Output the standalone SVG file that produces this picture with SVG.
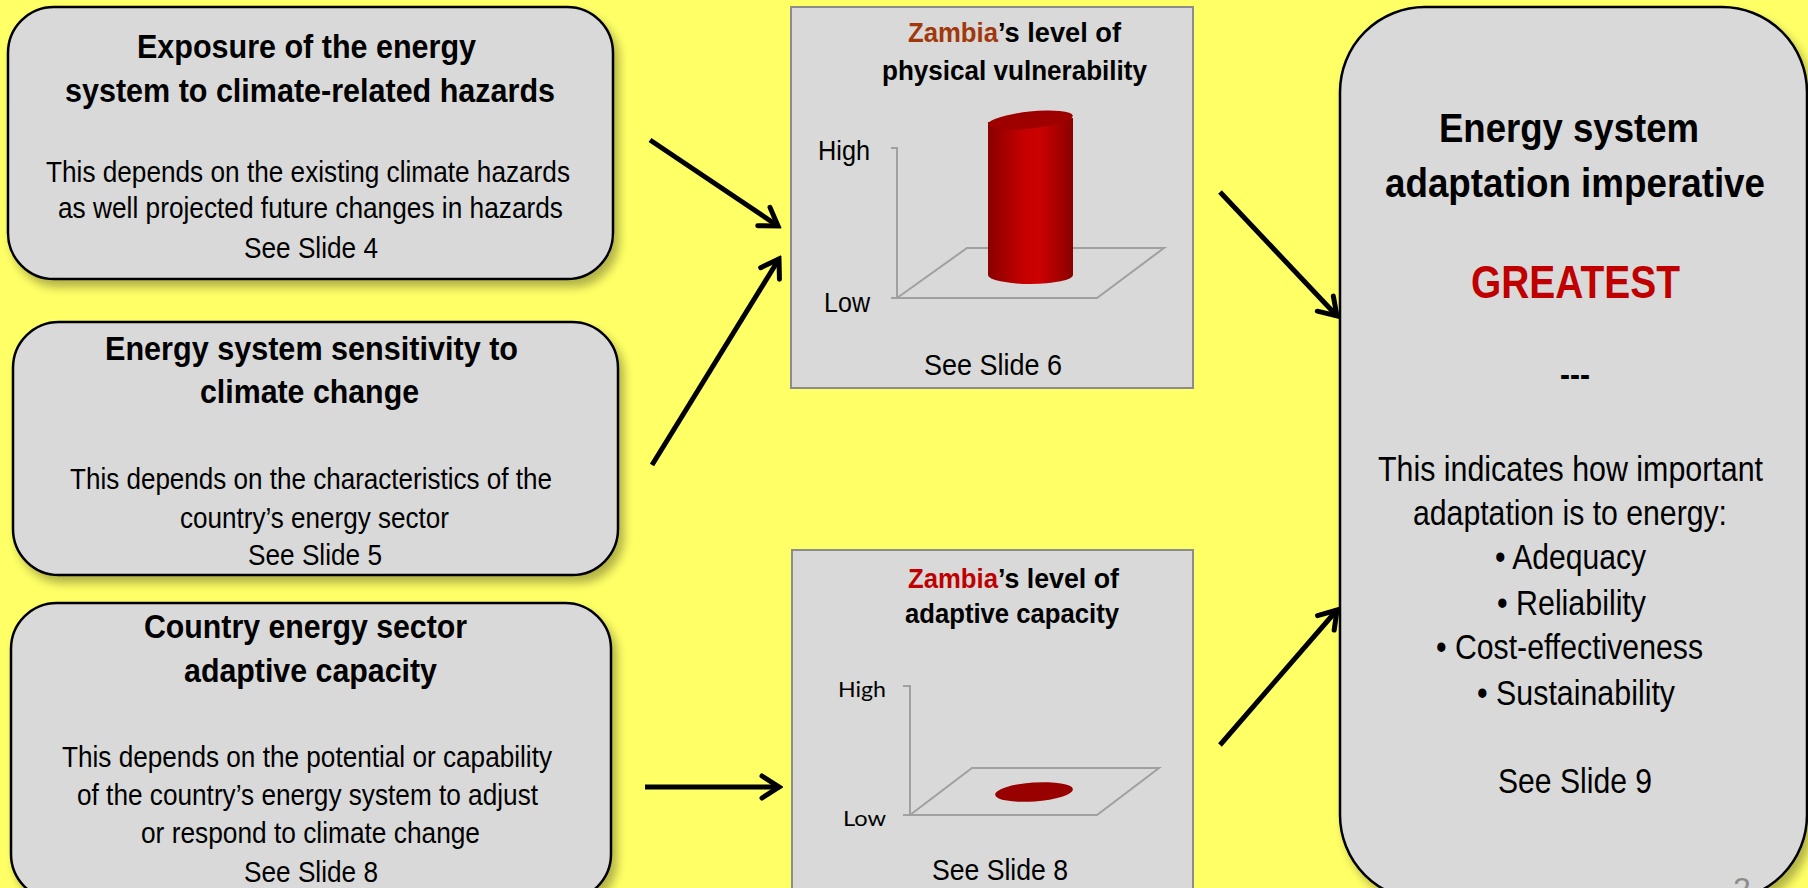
<svg xmlns="http://www.w3.org/2000/svg" width="1808" height="888" viewBox="0 0 1808 888">
<style>
.box{fill:#D9D9D9;stroke:#000;stroke-width:2.5}
.chart{fill:#D9D9D9;stroke:#8C8C8C;stroke-width:2}
.t{font-family:"Liberation Sans Narrow","Liberation Sans",Arial,sans-serif;fill:#000}
.b{font-weight:bold}
.h1{font-size:34px}
.body{font-size:30px}
.ct{font-size:27px}
.ax{font-size:27px}
.ax2{font-family:Lato,"Open Sans",sans-serif;font-size:21px;fill:#000}
.rt{font-size:40px}
.rb{font-size:35px}
.axis{fill:none;stroke:#A0A0A0;stroke-width:2}
.conn{fill:none;stroke:#000;stroke-width:5;marker-end:url(#arr)}
</style>
<defs>
<filter id="sh" x="-10%" y="-10%" width="130%" height="130%">
<feDropShadow dx="5" dy="7" stdDeviation="5" flood-color="#000" flood-opacity="0.3"/>
</filter>
<marker id="arr" viewBox="0 0 26 28" refX="22" refY="14" markerWidth="26" markerHeight="28" markerUnits="userSpaceOnUse" orient="auto">
<path d="M5,3 L22,14 L5,25" fill="none" stroke="#000" stroke-width="5" stroke-linecap="round" stroke-linejoin="miter"/>
</marker>
<linearGradient id="cyl" x1="0" y1="0" x2="1" y2="0">
<stop offset="0" stop-color="#8A0000"/>
<stop offset="0.45" stop-color="#C80000"/>
<stop offset="0.6" stop-color="#CC0202"/>
<stop offset="1" stop-color="#8A0000"/>
</linearGradient>
</defs>
<rect width="1808" height="888" fill="#FFFF66"/>

<g id="exposure">
<rect class="box" x="8" y="7" width="605" height="272" rx="46" filter="url(#sh)"/>
<text class="t b h1" x="137" y="58" textLength="339" lengthAdjust="spacingAndGlyphs">Exposure of the energy</text>
<text class="t b h1" x="65" y="102" textLength="490" lengthAdjust="spacingAndGlyphs">system to climate-related hazards</text>
<text class="t body" x="46" y="182" textLength="524" lengthAdjust="spacingAndGlyphs">This depends on the existing climate hazards</text>
<text class="t body" x="58" y="218" textLength="505" lengthAdjust="spacingAndGlyphs">as well projected future changes in hazards</text>
<text class="t body" x="244" y="258" textLength="134" lengthAdjust="spacingAndGlyphs">See Slide 4</text>
</g>

<g id="sensitivity">
<rect class="box" x="13" y="322" width="605" height="253" rx="46" filter="url(#sh)"/>
<text class="t b h1" x="105" y="360" textLength="413" lengthAdjust="spacingAndGlyphs">Energy system sensitivity to</text>
<text class="t b h1" x="200" y="403" textLength="219" lengthAdjust="spacingAndGlyphs">climate change</text>
<text class="t body" x="70" y="489" textLength="482" lengthAdjust="spacingAndGlyphs">This depends on the characteristics of the</text>
<text class="t body" x="180" y="528" textLength="269" lengthAdjust="spacingAndGlyphs">country’s energy sector</text>
<text class="t body" x="248" y="565" textLength="134" lengthAdjust="spacingAndGlyphs">See Slide 5</text>
</g>

<g id="capacity">
<rect class="box" x="11" y="603" width="600" height="297" rx="46" filter="url(#sh)"/>
<text class="t b h1" x="144" y="638" textLength="323" lengthAdjust="spacingAndGlyphs">Country energy sector</text>
<text class="t b h1" x="184" y="682" textLength="253" lengthAdjust="spacingAndGlyphs">adaptive capacity</text>
<text class="t body" x="62" y="767" textLength="490" lengthAdjust="spacingAndGlyphs">This depends on the potential or capability</text>
<text class="t body" x="77" y="805" textLength="461" lengthAdjust="spacingAndGlyphs">of the country’s energy system to adjust</text>
<text class="t body" x="141" y="843" textLength="339" lengthAdjust="spacingAndGlyphs">or respond to climate change</text>
<text class="t body" x="244" y="882" textLength="134" lengthAdjust="spacingAndGlyphs">See Slide 8</text>
</g>

<g id="vulnerability">
<rect class="chart" x="791" y="7" width="402" height="381"/>
<text class="t b ct" x="908" y="42" textLength="90" lengthAdjust="spacingAndGlyphs" style="fill:#A0380C">Zambia</text>
<text class="t b ct" x="998" y="42" textLength="123" lengthAdjust="spacingAndGlyphs">’s level of</text>
<text class="t b ct" x="882" y="80" textLength="265" lengthAdjust="spacingAndGlyphs">physical vulnerability</text>
<text class="t ax" x="818" y="160" textLength="52" lengthAdjust="spacingAndGlyphs">High</text>
<text class="t ax" x="824" y="312" textLength="46" lengthAdjust="spacingAndGlyphs">Low</text>
<path class="axis" d="M891,148 H897 V298 M891,298 H1097 L1164,248 H967 L897,298"/>
<path d="M988,122 V275 A42.5,9 0 0 0 1073,275 V118 Z" fill="url(#cyl)"/>
<ellipse cx="1030.5" cy="120" rx="42.5" ry="8.5" fill="#9E0000" transform="rotate(-6 1030.5 120)"/>
<text class="t body" x="924" y="375" textLength="138" lengthAdjust="spacingAndGlyphs">See Slide 6</text>
</g>

<g id="adaptive">
<rect class="chart" x="792" y="550" width="401" height="360"/>
<text class="t b ct" x="908" y="588" textLength="90" lengthAdjust="spacingAndGlyphs" style="fill:#C00000">Zambia</text>
<text class="t b ct" x="998" y="588" textLength="121" lengthAdjust="spacingAndGlyphs">’s level of</text>
<text class="t b ct" x="905" y="623" textLength="214" lengthAdjust="spacingAndGlyphs">adaptive capacity</text>
<text class="ax2" x="838" y="697" textLength="48" lengthAdjust="spacingAndGlyphs">High</text>
<text class="ax2" x="843" y="826" textLength="43" lengthAdjust="spacingAndGlyphs">Low</text>
<path class="axis" d="M903,686 H910 V815 M903,815 H1097 L1159,768 H972 L910,815"/>
<ellipse cx="1034" cy="792" rx="39" ry="9.5" fill="#990000" transform="rotate(-4 1034 792)"/>
<text class="t body" x="932" y="880" textLength="136" lengthAdjust="spacingAndGlyphs">See Slide 8</text>
</g>

<g id="imperative">
<rect class="box" x="1340" y="7" width="467" height="893" rx="85" filter="url(#sh)"/>
<text class="t b rt" x="1439" y="142" textLength="260" lengthAdjust="spacingAndGlyphs">Energy system</text>
<text class="t b rt" x="1385" y="197" textLength="380" lengthAdjust="spacingAndGlyphs">adaptation imperative</text>
<text class="t b" x="1471" y="298" font-size="46" textLength="209" lengthAdjust="spacingAndGlyphs" style="fill:#C00000">GREATEST</text>
<text class="t b" x="1560" y="386" font-size="34" textLength="30" lengthAdjust="spacingAndGlyphs">---</text>
<text class="t rb" x="1378" y="481" textLength="385" lengthAdjust="spacingAndGlyphs">This indicates how important</text>
<text class="t rb" x="1413" y="525" textLength="314" lengthAdjust="spacingAndGlyphs">adaptation is to energy:</text>
<text class="t rb" x="1495" y="569" textLength="151" lengthAdjust="spacingAndGlyphs">• Adequacy</text>
<text class="t rb" x="1497" y="615" textLength="149" lengthAdjust="spacingAndGlyphs">• Reliability</text>
<text class="t rb" x="1436" y="659" textLength="267" lengthAdjust="spacingAndGlyphs">• Cost-effectiveness</text>
<text class="t rb" x="1477" y="705" textLength="198" lengthAdjust="spacingAndGlyphs">• Sustainability</text>
<text class="t rb" x="1498" y="793" textLength="154" lengthAdjust="spacingAndGlyphs">See Slide 9</text>
<text class="t" x="1733" y="900" font-size="32" style="fill:#8C8C8C">2</text>
</g>

<g id="connectors">
<line class="conn" x1="650" y1="140" x2="778" y2="226"/>
<line class="conn" x1="652" y1="465" x2="779" y2="259"/>
<line class="conn" x1="645" y1="787" x2="779" y2="787"/>
<line class="conn" x1="1220" y1="192" x2="1337" y2="316"/>
<line class="conn" x1="1220" y1="745" x2="1337" y2="610"/>
</g>
</svg>
